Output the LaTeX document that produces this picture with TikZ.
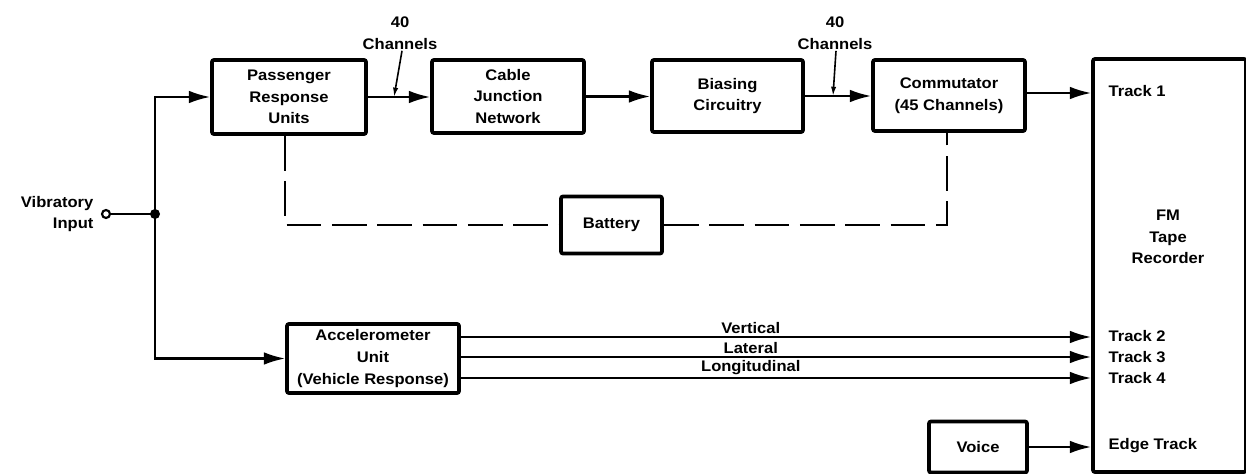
\documentclass[tikz,border=0pt]{standalone}
\usepackage{fontspec}
\setmainfont{Liberation Sans}[FakeStretch=1.08]
\usetikzlibrary{arrows.meta}

\begin{document}
\begin{tikzpicture}[x=0.75pt,y=-0.75pt]
  \tikzset{
    block/.style={draw, line width=2.8pt, rounded corners=1.5pt, align=center,
      inner sep=0pt, font=\fontsize{11.5}{16.2}\selectfont\bfseries},
    wire/.style={line width=1.6pt},
    feed/.style={wire, -{Latex[length=16pt,width=9.5pt]}},
    tick/.style={line width=1.2pt, -{Latex[length=7pt,width=4pt]}},
    battline/.style={line width=1.6pt, dash pattern=on 26pt off 8pt},
    lbl/.style={font=\fontsize{11.5}{16.2}\selectfont\bfseries, inner sep=1pt}
  }
  \useasboundingbox (0,0) rectangle (1246,474);

  % blocks
  \node[block, minimum width=115.5pt, minimum height=55.5pt] (pru) at (289,97)
    {Passenger\\Response\\Units};
  \node[block, minimum width=114pt, minimum height=54.75pt] (cjn) at (508,96.5)
    {Cable\\Junction\\Network};
  \node[block, minimum width=113.25pt, minimum height=54pt] (bias) at (727.5,96)
    {Biasing\\Circuitry};
  \node[block, minimum width=114pt, minimum height=53.25pt] (comm) at (949,95.5)
    {Commutator\\(45 Channels)};
  \node[block, minimum width=75.75pt, minimum height=42.75pt] (batt) at (611.5,225)
    {Battery};
  \node[block, minimum width=129pt, minimum height=51.75pt] (acc) at (373,358.5)
    {Accelerometer\\Unit\\(Vehicle Response)};
  \node[block, minimum width=73.5pt, minimum height=38.25pt] (voice) at (978,447)
    {Voice};
  \node[block, minimum width=114.75pt, minimum height=309.75pt] (rec) at (1169.5,265.5) {};
  \node[lbl, align=center] (recname) at (1168,237) {FM\\Tape\\Recorder};

  % input
  \draw[wire] (106,214) circle (4);
  \coordinate (inp) at (110,214);
  \node[lbl, align=right, anchor=east] (vib) at (95,214) {Vibratory\\Input};
  \coordinate (split) at (155,214);
  \fill (split) circle (5);
  \draw[wire] (inp) -- (split);
  \draw[feed] (split) |- (pru.west);
  \draw[feed] (split) |- (acc.west);

  % upper chain
  \draw[feed] (pru.east) -- (pru.east -| cjn.west);
  \draw[feed] (cjn.east) -- (cjn.east -| bias.west);
  \draw[feed] (bias.east) -- (bias.east -| comm.west);
  \draw[feed] (comm.east |- 0,93) -- (rec.west |- 0,93);

  % channel counts
  \node[lbl, align=center] (ch1) at (400,33) {40\\Channels};
  \node[lbl, align=center] (ch2) at (835,33) {40\\Channels};
  \draw[tick] (ch1.south) ++(2,0) -- (394,97);
  \draw[tick] (ch2.south) ++(1,0) -- (833,96);

  % battery supply
  \draw[battline] (pru.south -| 285,0) |- (batt.west);
  \draw[battline] (batt.east) -| (comm.south -| 947,0);

  % accelerometer outputs
  \foreach \y/\name in {337/Vertical, 357/Lateral, 378/Longitudinal}{
    \draw[feed] (acc.east |- 0,\y) -- (rec.west |- 0,\y)
      node[lbl, pos=0.46, above, inner sep=0.5pt, yshift=1pt] {\name};
  }
  \draw[feed] (voice) -- (voice -| rec.west);

  % tracks
  \node[lbl, anchor=west] (t1) at (1107,91) {Track 1};
  \node[lbl, anchor=west] (t2) at (1107,336) {Track 2};
  \node[lbl, anchor=west] (t3) at (1107,357) {Track 3};
  \node[lbl, anchor=west] (t4) at (1107,378) {Track 4};
  \node[lbl, anchor=west] (te) at (1107,446) {Edge Track};
\end{tikzpicture}
\end{document}
